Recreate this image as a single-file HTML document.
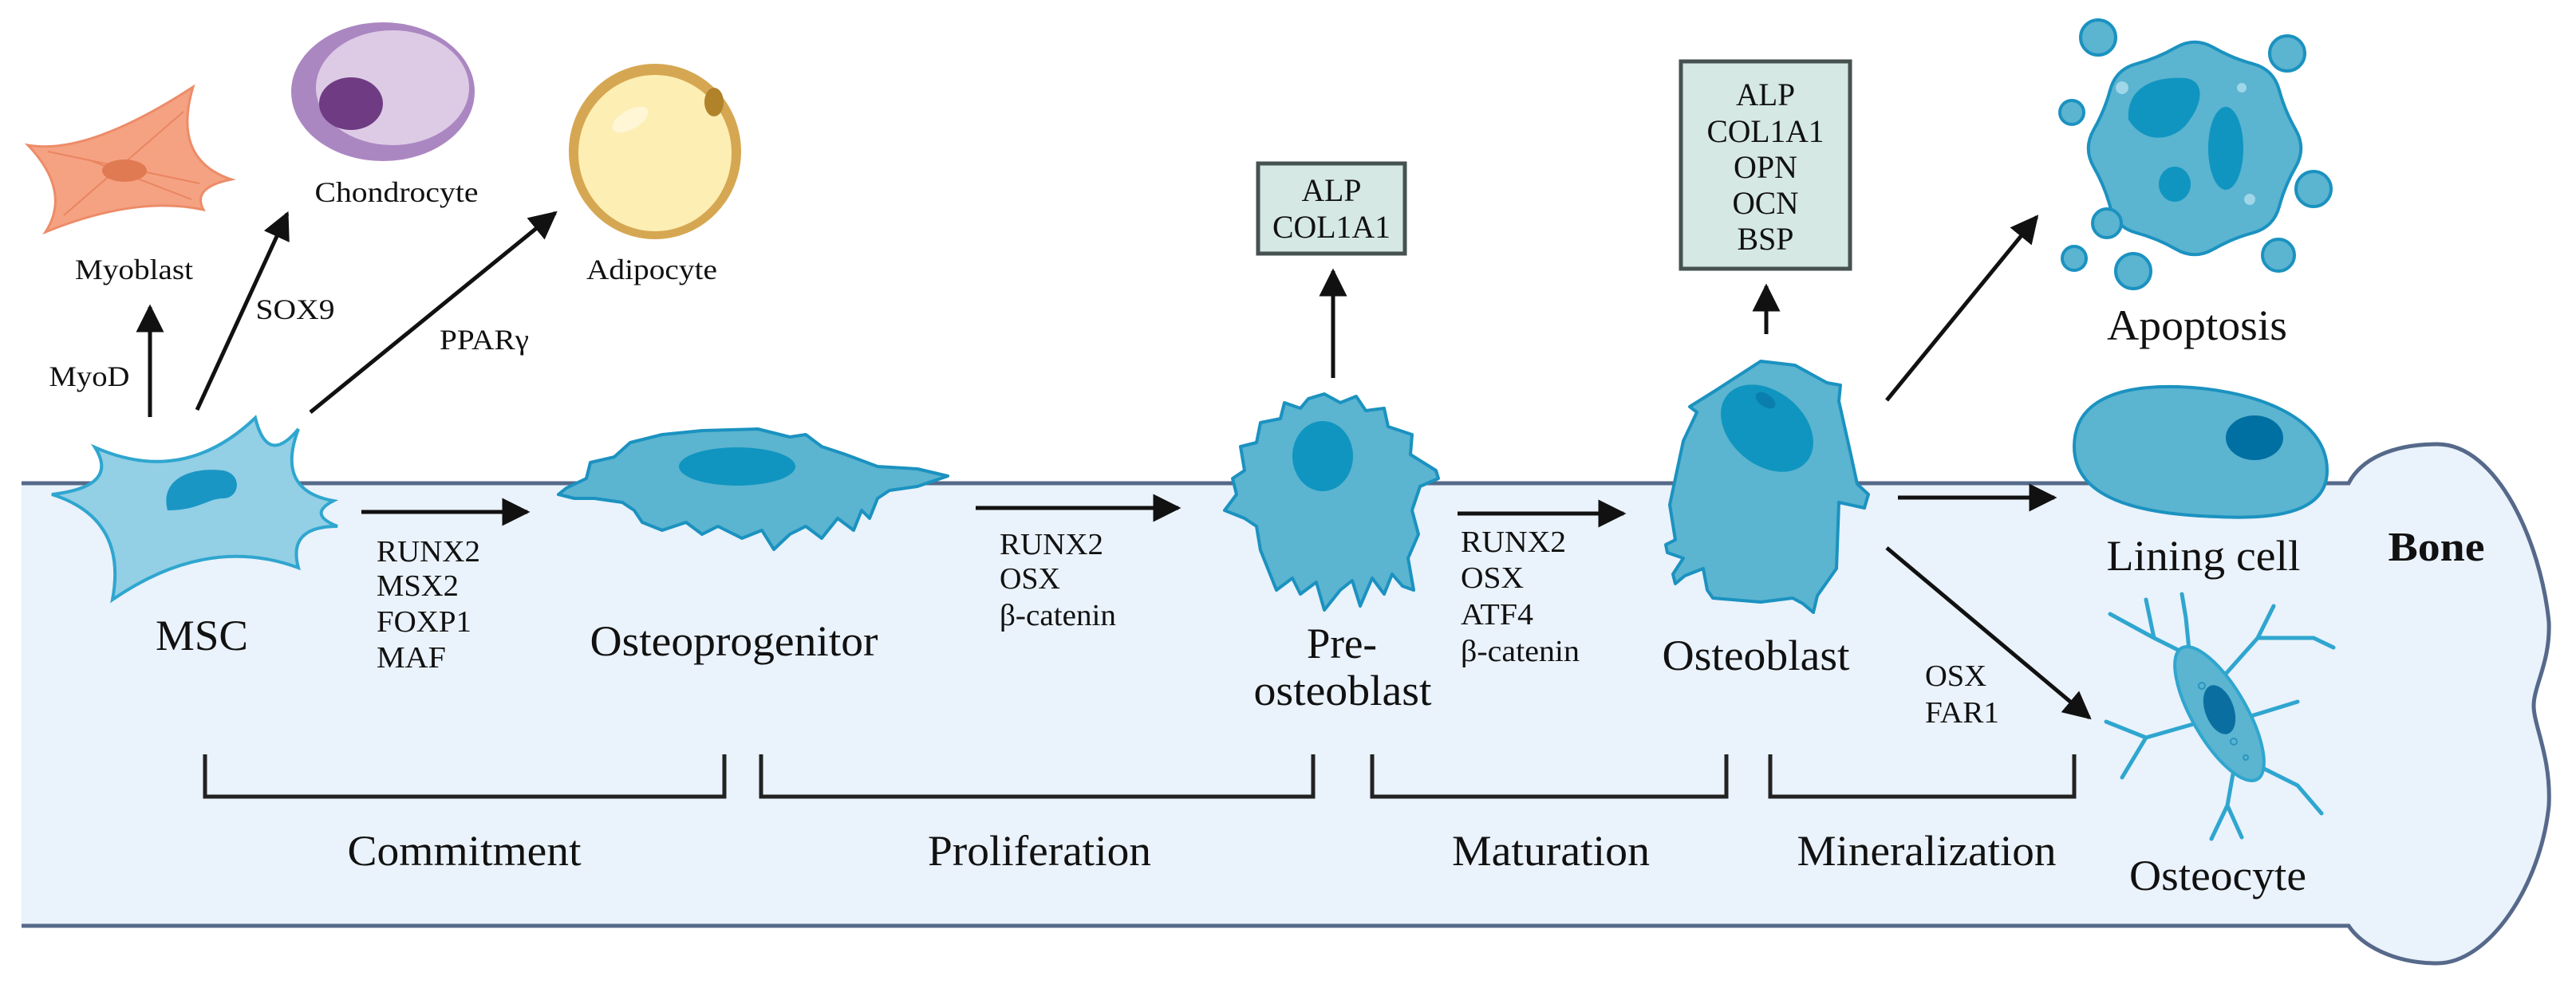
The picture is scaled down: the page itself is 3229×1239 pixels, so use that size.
<!DOCTYPE html>
<html><head><meta charset="utf-8"><style>
html,body{margin:0;padding:0;background:#fff;}
svg{display:block;}
text{font-family:"Liberation Serif",serif;fill:#111;}
</style></head><body>
<svg width="3229" height="1239" viewBox="0 0 3229 1239" xmlns="http://www.w3.org/2000/svg">
<defs>
<marker id="ah" viewBox="0 0 10 10" refX="9" refY="5" markerWidth="7" markerHeight="7" orient="auto" markerUnits="strokeWidth">
<path d="M0,0 L10,5 L0,10 Z" fill="#111"/></marker>
</defs>
<rect width="3229" height="1239" fill="#fff"/>
<!-- bone band -->
<path d="M27,606 L2944,606 C2960,575 3000,557 3055,557 C3130,557 3185,680 3195,780 C3197,830 3176,860 3176,885 C3176,910 3198,950 3195,1010 C3185,1110 3120,1208 3055,1208 C3000,1208 2960,1185 2944,1161 L27,1161 Z" fill="#eaf2fb"/>
<path d="M27,606 L2944,606 C2960,575 3000,557 3055,557 C3130,557 3185,680 3195,780 C3197,830 3176,860 3176,885 C3176,910 3198,950 3195,1010 C3185,1110 3120,1208 3055,1208 C3000,1208 2960,1185 2944,1161 L27,1161" fill="none" stroke="#56698a" stroke-width="5"/>

<!-- Myoblast -->
<path d="M35,182 Q110,195 242,109 Q215,200 290,225 Q240,235 255,263 Q170,245 57,291 Q90,240 35,182 Z" fill="#f5a283" stroke="#ec8c68" stroke-width="3"/>
<path d="M60,190 L250,230 M80,270 L230,140 M110,200 L240,250" stroke="#e98560" stroke-width="2" fill="none"/>
<ellipse cx="156" cy="214" rx="28" ry="14" fill="#e07a52"/>
<!-- Chondrocyte -->
<ellipse cx="480" cy="115" rx="115" ry="87" fill="#ab87c2"/>
<ellipse cx="492" cy="110" rx="96" ry="72" fill="#ddcbe5"/>
<ellipse cx="440" cy="130" rx="40" ry="33" fill="#6f3c83"/>
<!-- Adipocyte -->
<ellipse cx="821" cy="190" rx="108" ry="110" fill="#d6a752"/>
<ellipse cx="821" cy="192" rx="96" ry="98" fill="#fdeeb3"/>
<ellipse cx="790" cy="150" rx="25" ry="12" transform="rotate(-30 790 150)" fill="#fff6d6"/>
<ellipse cx="895" cy="128" rx="12" ry="18" fill="#b0822a"/>

<!-- MSC -->
<path d="M119,561 Q230,610 320,524 Q335,585 374,538 Q345,615 418,628 Q385,645 423,660 Q360,660 374,712 Q260,670 141,752 Q160,650 65,620 Q150,610 119,561 Z" fill="#93cfe5" stroke="#2fa6cf" stroke-width="4"/>
<path d="M210,640 C200,600 240,585 280,590 C305,595 300,625 280,625 C260,625 250,640 210,640 Z" fill="#1a96c4"/>

<!-- Osteoprogenitor -->
<polygon points="710,612 735,600 740,580 770,573 790,555 830,545 880,540 950,538 990,548 1010,545 1030,560 1060,570 1100,585 1150,588 1188,597 1150,610 1115,615 1100,625 1090,650 1080,640 1070,665 1050,650 1030,675 1010,660 990,670 970,689 955,665 930,675 900,660 880,670 860,655 830,665 805,655 795,640 780,630 745,625 720,625 700,620" fill="#5bb4d0" stroke="#1b92c0" stroke-width="4" stroke-linejoin="round"/>
<ellipse cx="924" cy="585" rx="73" ry="24" fill="#0f95c0"/>

<!-- Pre-osteoblast -->
<polygon points="1640,500 1660,494 1680,505 1700,497 1712,515 1735,512 1740,535 1770,545 1768,570 1800,590 1803,600 1780,610 1770,640 1778,670 1765,700 1772,740 1758,735 1745,720 1735,745 1720,725 1705,760 1695,728 1680,740 1660,765 1650,730 1630,745 1620,725 1600,740 1590,715 1580,690 1575,660 1560,650 1535,640 1550,620 1545,600 1560,590 1555,560 1575,555 1580,530 1605,525 1610,505 1630,512" fill="#5bb4d0" stroke="#1b92c0" stroke-width="4" stroke-linejoin="round"/>
<ellipse cx="1658" cy="572" rx="38" ry="44" fill="#0f95c0"/>

<!-- Osteoblast -->
<polygon points="2118,510 2150,490 2207,453 2250,458 2290,480 2307,483 2305,503 2320,570 2328,607 2342,620 2337,637 2305,630 2302,713 2278,747 2273,768 2260,757 2247,750 2207,755 2147,750 2140,740 2135,713 2112,722 2100,732 2097,720 2110,700 2090,693 2088,683 2100,677 2093,633 2110,553 2127,517" fill="#5bb4d0" stroke="#1b92c0" stroke-width="4" stroke-linejoin="round"/>
<ellipse cx="2215" cy="537" rx="65" ry="46" transform="rotate(40 2215 537)" fill="#0f95c0"/>
<ellipse cx="2213" cy="502" rx="14" ry="8" transform="rotate(35 2213 502)" fill="#0a7fae"/>

<!-- Apoptosis -->
<path d="M2877.5,162.5 Q2891,186 2877.5,209.5 Q2864,233 2857,259 Q2850,285 2824,292 Q2798,299 2774.5,312.5 Q2751,326 2727.5,312.5 Q2704,299 2678,292 Q2652,285 2645,259 Q2638,233 2624.5,209.5 Q2611,186 2624.5,162.5 Q2638,139 2645,113 Q2652,87 2678,80 Q2704,73 2727.5,59.5 Q2751,46 2774.5,59.5 Q2798,73 2824,80 Q2850,87 2857,113 Q2864,139 2877.5,162.5 Z" fill="#5bb4d0" stroke="#1b92c0" stroke-width="4"/>
<path d="M2668,150 C2665,110 2700,95 2740,98 C2765,102 2760,130 2745,150 C2730,175 2690,185 2668,150 Z" fill="#0f95c0"/>
<ellipse cx="2790" cy="186" rx="22" ry="52" fill="#0f95c0"/>
<ellipse cx="2726" cy="231" rx="20" ry="22" fill="#0f95c0"/>
<circle cx="2630" cy="47" r="22" fill="#5bb4d0" stroke="#1b92c0" stroke-width="4"/>
<circle cx="2867" cy="67" r="22" fill="#5bb4d0" stroke="#1b92c0" stroke-width="4"/>
<circle cx="2597" cy="141" r="15" fill="#5bb4d0" stroke="#1b92c0" stroke-width="4"/>
<circle cx="2900" cy="237" r="22" fill="#5bb4d0" stroke="#1b92c0" stroke-width="4"/>
<circle cx="2641" cy="280" r="18" fill="#5bb4d0" stroke="#1b92c0" stroke-width="4"/>
<circle cx="2600" cy="324" r="15" fill="#5bb4d0" stroke="#1b92c0" stroke-width="4"/>
<circle cx="2674" cy="340" r="22" fill="#5bb4d0" stroke="#1b92c0" stroke-width="4"/>
<circle cx="2856" cy="320" r="20" fill="#5bb4d0" stroke="#1b92c0" stroke-width="4"/>
<circle cx="2660" cy="110" r="8" fill="#9fd6e8"/><circle cx="2820" cy="250" r="7" fill="#9fd6e8"/><circle cx="2810" cy="110" r="6" fill="#9fd6e8"/>

<!-- Lining cell -->
<path d="M2600,560 C2600,500 2660,483 2730,485 C2820,488 2917,520 2917,590 C2917,640 2860,652 2780,648 C2680,645 2600,625 2600,560 Z" fill="#5bb4d0" stroke="#1b92c0" stroke-width="4"/>
<ellipse cx="2826" cy="549" rx="36" ry="28" fill="#0070a3"/>

<!-- Osteocyte -->
<g stroke="#2fa6cf" stroke-width="5" fill="none" stroke-linecap="round" stroke-linejoin="round">
<path d="M2740,820 L2700,800 L2645,770 M2700,800 L2690,752 M2745,825 L2740,775 L2735,745 M2790,845 L2830,800 L2850,760 M2830,800 L2900,800 L2925,812 M2830,960 L2880,985 L2910,1020 M2800,965 L2792,1010 L2772,1052 M2792,1010 L2810,1050 M2760,905 L2690,925 L2640,905 M2690,925 L2660,975 M2815,900 L2880,880"/>
</g>
<ellipse cx="2782" cy="895" rx="95" ry="34" transform="rotate(60 2782 895)" fill="#5bb4d0" stroke="#2fa6cf" stroke-width="4"/>
<ellipse cx="2782" cy="890" rx="18" ry="32" transform="rotate(-20 2782 890)" fill="#0a6fa0"/>
<circle cx="2760" cy="860" r="4" fill="none" stroke="#2a95c2" stroke-width="2"/>
<circle cx="2800" cy="930" r="4" fill="none" stroke="#2a95c2" stroke-width="2"/>
<circle cx="2815" cy="950" r="3" fill="none" stroke="#2a95c2" stroke-width="2"/>

<!-- Boxes -->
<rect x="1577" y="205" width="184" height="113" fill="#d5e8e3" stroke="#45524f" stroke-width="5"/>
<rect x="2107" y="77" width="212" height="260" fill="#d5e8e3" stroke="#45524f" stroke-width="5"/>

<!-- Arrows -->
<g stroke="#111" stroke-width="5" fill="none" marker-end="url(#ah)">
<line x1="188" y1="523" x2="188" y2="385"/>
<line x1="247" y1="514" x2="360" y2="268"/>
<line x1="389" y1="517" x2="696" y2="267"/>
<line x1="453" y1="642" x2="661" y2="642"/>
<line x1="1223" y1="637" x2="1477" y2="637"/>
<line x1="1671" y1="474" x2="1671" y2="340"/>
<line x1="2214" y1="419" x2="2214" y2="359"/>
<line x1="1827" y1="644" x2="2035" y2="644"/>
<line x1="2365" y1="502" x2="2553" y2="272"/>
<line x1="2379" y1="624" x2="2575" y2="624"/>
<line x1="2365" y1="687" x2="2619" y2="900"/>
</g>

<!-- Brackets -->
<g stroke="#222" stroke-width="5" fill="none">
<path d="M257,946 L257,999 L908,999 L908,946"/>
<path d="M954,946 L954,999 L1646,999 L1646,946"/>
<path d="M1720,946 L1720,999 L2164,999 L2164,946"/>
<path d="M2219,946 L2219,999 L2600,999 L2600,946"/>
</g>

<!-- Text -->
<g font-size="36" text-anchor="middle">
<text x="168" y="350" textLength="148" lengthAdjust="spacingAndGlyphs">Myoblast</text>
<text x="497" y="253" textLength="205" lengthAdjust="spacingAndGlyphs">Chondrocyte</text>
<text x="817" y="350" textLength="164" lengthAdjust="spacingAndGlyphs">Adipocyte</text>
<text x="112" y="484" textLength="101" lengthAdjust="spacingAndGlyphs">MyoD</text>
<text x="370" y="400" textLength="99" lengthAdjust="spacingAndGlyphs">SOX9</text>
<text x="607" y="438" textLength="112" lengthAdjust="spacingAndGlyphs">PPARγ</text>
</g>
<g font-size="38">
<text x="472" y="704" textLength="130" lengthAdjust="spacingAndGlyphs">RUNX2</text>
<text x="472" y="747" textLength="103" lengthAdjust="spacingAndGlyphs">MSX2</text>
<text x="472" y="792" textLength="119" lengthAdjust="spacingAndGlyphs">FOXP1</text>
<text x="472" y="837" textLength="87" lengthAdjust="spacingAndGlyphs">MAF</text>
<text x="1253" y="695" textLength="130" lengthAdjust="spacingAndGlyphs">RUNX2</text>
<text x="1253" y="738" textLength="76" lengthAdjust="spacingAndGlyphs">OSX</text>
<text x="1253" y="784" textLength="146" lengthAdjust="spacingAndGlyphs">β-catenin</text>
<text x="1831" y="692" textLength="132" lengthAdjust="spacingAndGlyphs">RUNX2</text>
<text x="1831" y="737" textLength="79" lengthAdjust="spacingAndGlyphs">OSX</text>
<text x="1831" y="783" textLength="91" lengthAdjust="spacingAndGlyphs">ATF4</text>
<text x="1831" y="829" textLength="149" lengthAdjust="spacingAndGlyphs">β-catenin</text>
<text x="2413" y="860" textLength="77" lengthAdjust="spacingAndGlyphs">OSX</text>
<text x="2413" y="906" textLength="93" lengthAdjust="spacingAndGlyphs">FAR1</text>
</g>
<g font-size="40" text-anchor="middle">
<text x="1669" y="252" textLength="75" lengthAdjust="spacingAndGlyphs">ALP</text>
<text x="1669" y="298" textLength="148" lengthAdjust="spacingAndGlyphs">COL1A1</text>
<text x="2213" y="132" textLength="74" lengthAdjust="spacingAndGlyphs">ALP</text>
<text x="2213" y="178" textLength="147" lengthAdjust="spacingAndGlyphs">COL1A1</text>
<text x="2213" y="223" textLength="80" lengthAdjust="spacingAndGlyphs">OPN</text>
<text x="2213" y="268" textLength="83" lengthAdjust="spacingAndGlyphs">OCN</text>
<text x="2213" y="313" textLength="71" lengthAdjust="spacingAndGlyphs">BSP</text>
</g>
<g font-size="54" text-anchor="middle">
<text x="253" y="815" textLength="116" lengthAdjust="spacingAndGlyphs">MSC</text>
<text x="920" y="822" textLength="361" lengthAdjust="spacingAndGlyphs">Osteoprogenitor</text>
<text x="1682" y="825" textLength="88" lengthAdjust="spacingAndGlyphs">Pre-</text>
<text x="1683" y="884" textLength="223" lengthAdjust="spacingAndGlyphs">osteoblast</text>
<text x="2201" y="840" textLength="235" lengthAdjust="spacingAndGlyphs">Osteoblast</text>
<text x="2754" y="426" textLength="226" lengthAdjust="spacingAndGlyphs">Apoptosis</text>
<text x="2762" y="715" textLength="243" lengthAdjust="spacingAndGlyphs">Lining cell</text>
<text x="2780" y="1116" textLength="222" lengthAdjust="spacingAndGlyphs">Osteocyte</text>
<text x="582" y="1085" textLength="293" lengthAdjust="spacingAndGlyphs">Commitment</text>
<text x="1303" y="1085" textLength="280" lengthAdjust="spacingAndGlyphs">Proliferation</text>
<text x="1944" y="1085" textLength="248" lengthAdjust="spacingAndGlyphs">Maturation</text>
<text x="2415" y="1085" textLength="325" lengthAdjust="spacingAndGlyphs">Mineralization</text>
<text x="3054" y="703" font-weight="bold" font-size="52" textLength="121" lengthAdjust="spacingAndGlyphs">Bone</text>
</g>
</svg>
</body></html>
